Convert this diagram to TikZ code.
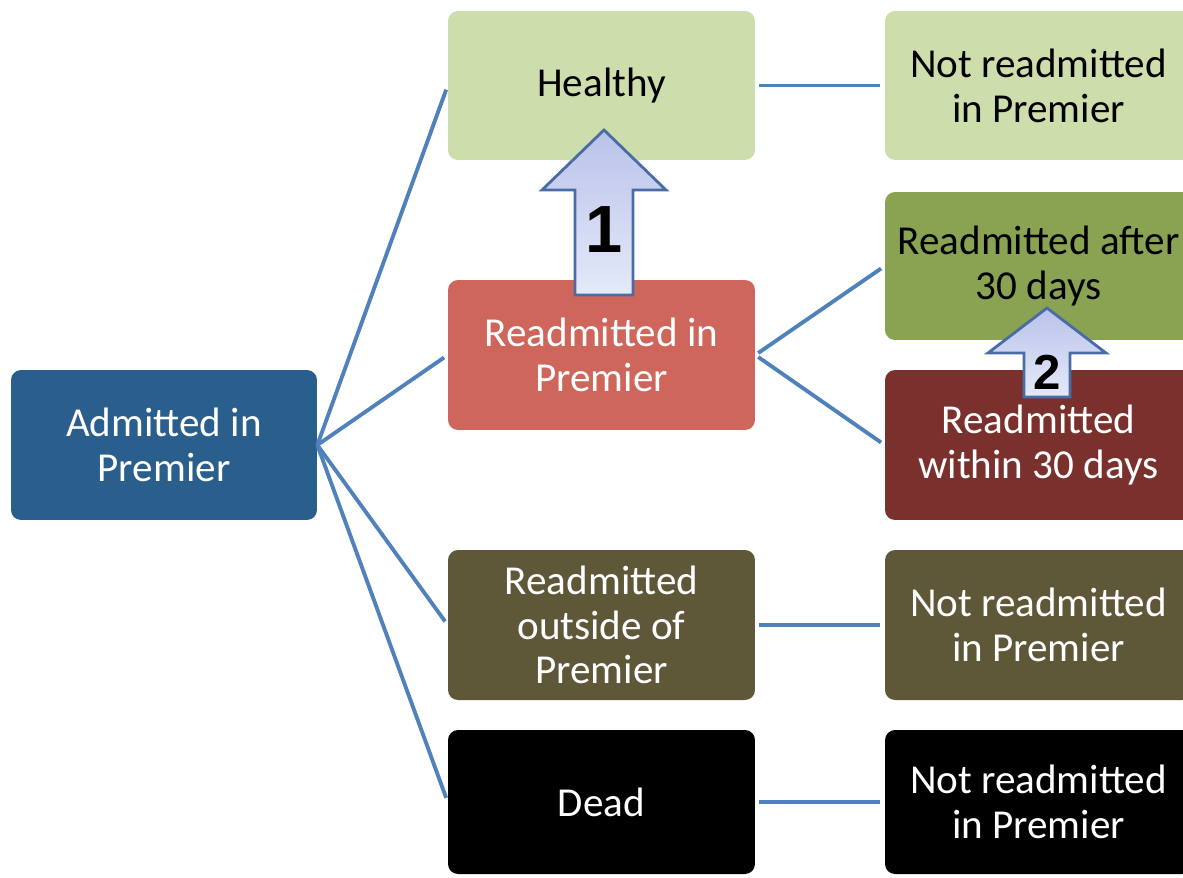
\documentclass[tikz,border=0pt]{standalone}
\usepackage{fontspec}
\setmainfont{Carlito}
\newfontfamily\arrowfont{Liberation Sans}
\definecolor{rootblue}{RGB}{42,94,140}
\definecolor{lightgreen}{RGB}{205,221,172}
\definecolor{salmon}{RGB}{207,102,92}
\definecolor{olivegreen}{RGB}{138,163,82}
\definecolor{darkred}{RGB}{122,49,46}
\definecolor{olivebrown}{RGB}{94,88,57}
\definecolor{linkblue}{RGB}{79,129,189}
\definecolor{arrowedge}{RGB}{74,108,165}
\definecolor{arrowtop}{RGB}{186,194,234}
\definecolor{arrowbottom}{RGB}{228,234,249}
\begin{document}
\begin{tikzpicture}[
		x=0.02cm, y=-0.02cm,
		box/.style={rectangle, rounded corners=0.2cm, minimum width=6.14cm, minimum height=3cm, align=center, text=white, font=\fontsize{23.4}{25.5}\selectfont},
		link/.style={draw=linkblue, line width=2.2pt, shorten >=2.5pt},
		bigarrow/.style={draw=arrowedge, line width=1.6pt, top color=arrowtop, bottom color=arrowbottom},
		digit/.style={font=\arrowfont\bfseries\fontsize{38}{38}\selectfont}
		]
		\useasboundingbox (0,0) rectangle (1183,877);
		\clip (0,0) rectangle (1183,877);
		
		\node[box, fill=rootblue, minimum width=6.12cm] (admitted) at (164,445) {Admitted in\\Premier};
		
		\node[box, fill=lightgreen, text=black, minimum height=2.98cm] (healthy) at (601.5,85.5) {Healthy};
		\node[box, fill=salmon] (readmin) at (601.5,355) {Readmitted in\\Premier};
		\node[box, fill=olivebrown] (outside) at (601.5,625) {Readmitted\\outside of\\Premier};
		\node[box, fill=black, minimum height=2.88cm] (dead) at (601.5,802) {Dead};
		
		\node[box, fill=lightgreen, text=black, minimum height=2.98cm] (notin1) at (1038.5,85.5) {Not readmitted\\in Premier};
		\node[box, fill=olivegreen, text=black, minimum height=2.96cm] (after) at (1038.5,266) {Readmitted after\\30 days};
		\node[box, fill=darkred] (within) at (1038.5,445) {Readmitted\\within 30 days};
		\node[box, fill=olivebrown] (notin2) at (1038.5,625) {Not readmitted\\in Premier};
		\node[box, fill=black, minimum height=2.88cm] (notin3) at (1038.5,802) {Not readmitted\\in Premier};
		
		\foreach \mid in {healthy, readmin, outside, dead}
			\draw[link] (admitted.east) -- (\mid.west);
		\foreach \from/\to in {healthy/notin1, readmin/after, readmin/within, outside/notin2, dead/notin3}
			\draw[link, shorten <=2pt] (\from.east) -- (\to.west);
		
		\draw[bigarrow] (575,295) -- (575,190) -- (542,190) -- (604,130) -- (666,190) -- (633,190) -- (633,295) -- cycle;
		\node[digit] (one) at (604,230) {1};
		\draw[bigarrow] (1024,397) -- (1024,353) -- (988,353) -- (1047,308) -- (1106,353) -- (1070,353) -- (1070,397) -- cycle;
		\node[digit, font=\arrowfont\bfseries\fontsize{28}{28}\selectfont] (two) at (1047,372) {2};
		
	\end{tikzpicture}
\end{document}
